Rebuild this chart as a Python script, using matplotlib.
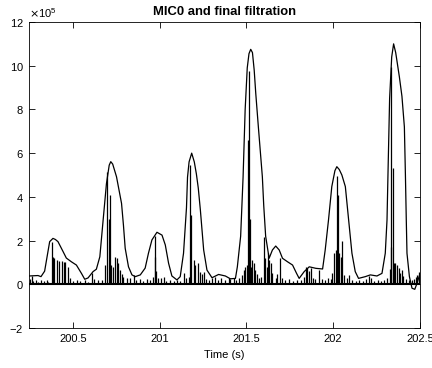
#!/usr/bin/python3

import matplotlib
matplotlib.use("Agg")
import matplotlib.pyplot as plt

#envelope of the final filtration, time (s) and value (x1e5)
env_t = [200.248, 200.300, 200.317, 200.338, 200.353, 200.367, 200.386, 200.400, 200.415,
         200.444, 200.463, 200.492, 200.521, 200.550, 200.569, 200.588, 200.617, 200.636,
         200.656, 200.675, 200.694, 200.700, 200.710, 200.719, 200.730, 200.752, 200.781,
         200.792, 200.802, 200.821, 200.841, 200.860, 200.889, 200.917, 200.936, 200.956,
         200.985, 201.014, 201.033, 201.052, 201.071, 201.100, 201.119, 201.138, 201.155,
         201.161, 201.170, 201.185, 201.200, 201.212, 201.223, 201.235, 201.254, 201.273,
         201.302, 201.340, 201.379, 201.408, 201.437, 201.448, 201.467, 201.481, 201.493,
         201.505, 201.515, 201.525, 201.535, 201.545, 201.554, 201.569, 201.592, 201.600,
         201.611, 201.631, 201.650, 201.669, 201.689, 201.708, 201.737, 201.766, 201.789,
         201.804, 201.833, 201.862, 201.900, 201.939, 201.954, 201.973, 201.992, 202.010,
         202.021, 202.035, 202.050, 202.070, 202.089, 202.108, 202.127, 202.146, 202.185,
         202.214, 202.252, 202.281, 202.300, 202.310, 202.316, 202.325, 202.337, 202.348,
         202.360, 202.381, 202.396, 202.410, 202.416, 202.421, 202.425, 202.439, 202.454,
         202.470, 202.483, 202.498]
env_v = [0.38, 0.40, 0.35, 0.60, 1.30, 1.95, 2.10, 2.05, 1.95,
         1.50, 1.20, 1.03, 0.88, 0.50, 0.23, 0.29, 0.58, 0.69,
         1.26, 2.94, 4.60, 4.92, 5.45, 5.61, 5.50, 4.92, 3.70,
         2.70, 1.65, 0.80, 0.43, 0.35, 0.43, 0.74, 1.42, 2.03,
         2.38, 2.25, 1.80, 0.96, 0.38, 0.20, 0.35, 1.42, 3.50,
         4.90, 5.60, 6.00, 5.60, 5.05, 4.40, 3.40, 1.57, 0.65,
         0.30, 0.45, 0.38, 0.25, 0.27, 0.80, 2.20, 4.90, 8.00,
         9.90, 10.55, 10.75, 10.60, 9.80, 8.74, 7.20, 4.92, 3.60,
         2.20, 1.19, 1.57, 1.75, 1.57, 1.19, 1.03, 0.88, 0.50,
         0.27, 0.58, 0.80, 0.73, 0.70, 1.57, 2.94, 4.47, 5.20,
         5.38, 5.25, 5.00, 4.47, 2.94, 1.42, 0.58, 0.27, 0.35,
         0.43, 0.38, 0.50, 1.42, 2.94, 5.20, 8.50, 10.40, 11.00,
         10.60, 9.50, 8.60, 7.20, 5.00, 2.94, 1.42, 0.35, -0.18,
         -0.23, 0.05, 0.43]

#MIC0 signal peaks, time (s) and value (x1e5)
mic_t = [200.254, 200.264, 200.271, 200.288, 200.300, 200.317, 200.335, 200.350, 200.358,
         200.379, 200.385, 200.394, 200.411, 200.423, 200.437, 200.450, 200.457, 200.475,
         200.485, 200.502, 200.523, 200.542, 200.571, 200.588, 200.610, 200.625, 200.646,
         200.667, 200.687, 200.700, 200.706, 200.714, 200.719, 200.729, 200.744, 200.754,
         200.763, 200.773, 200.785, 200.792, 200.812, 200.831, 200.850, 200.865, 200.889,
         200.906, 200.927, 200.946, 200.964, 200.971, 200.975, 200.981, 200.992, 201.010,
         201.023, 201.039, 201.062, 201.085, 201.102, 201.119, 201.138, 201.154, 201.167,
         201.174, 201.181, 201.196, 201.206, 201.219, 201.231, 201.245, 201.254, 201.269,
         201.287, 201.304, 201.321, 201.339, 201.356, 201.379, 201.400, 201.408, 201.427,
         201.443, 201.460, 201.475, 201.485, 201.492, 201.504, 201.507, 201.513, 201.519,
         201.525, 201.533, 201.542, 201.552, 201.562, 201.572, 201.584, 201.600, 201.610,
         201.620, 201.623, 201.631, 201.639, 201.650, 201.668, 201.679, 201.696, 201.708,
         201.725, 201.743, 201.766, 201.789, 201.812, 201.833, 201.841, 201.850, 201.862,
         201.870, 201.881, 201.898, 201.917, 201.933, 201.950, 201.968, 201.985, 201.996,
         202.004, 202.014, 202.021, 202.027, 202.035, 202.043, 202.050, 202.062, 202.077,
         202.093, 202.106, 202.129, 202.146, 202.170, 202.187, 202.206, 202.216, 202.233,
         202.256, 202.273, 202.291, 202.308, 202.325, 202.331, 202.335, 202.344, 202.350,
         202.358, 202.367, 202.377, 202.386, 202.395, 202.403, 202.418, 202.435, 202.452,
         202.464, 202.475, 202.485, 202.494]
mic_v = [0.25, 0.38, 0.15, 0.20, 0.12, 0.20, 0.15, 0.20, 0.10,
         1.95, 1.23, 1.19, 1.11, 1.08, 1.07, 1.04, 1.00, 0.80,
         0.30, 0.15, 0.20, 0.15, 0.20, 0.12, 0.53, 0.25, 0.20,
         0.20, 0.88, 5.13, 3.00, 4.10, 0.90, 0.80, 1.23, 1.19,
         0.96, 0.66, 0.45, 0.35, 0.27, 0.30, 0.43, 0.20, 0.25,
         0.15, 0.25, 0.20, 0.35, 1.23, 2.20, 0.60, 0.30, 0.27,
         0.32, 0.15, 0.20, 0.15, 0.20, 0.15, 0.50, 0.30, 0.35,
         5.46, 3.17, 1.11, 0.88, 0.96, 0.58, 0.45, 0.58, 0.25,
         0.20, 0.30, 0.35, 0.20, 0.30, 0.20, 0.27, 0.23, 0.30,
         0.20, 0.30, 0.43, 0.66, 0.80, 0.88, 6.60, 9.75, 3.00,
         0.80, 1.11, 0.96, 0.66, 0.45, 0.30, 0.35, 2.18, 1.19,
         0.80, 1.42, 1.10, 0.96, 0.50, 0.30, 0.45, 1.19, 0.30,
         0.20, 0.25, 0.15, 0.20, 0.20, 0.35, 0.80, 0.73, 0.60,
         0.73, 0.30, 0.25, 0.66, 0.25, 0.20, 0.30, 0.25, 0.50,
         1.42, 1.57, 4.95, 4.10, 1.42, 1.27, 2.00, 0.43, 0.30,
         0.43, 0.20, 0.15, 0.20, 0.15, 0.25, 0.40, 0.30, 0.15,
         0.20, 0.15, 0.20, 0.30, 0.70, 1.72, 9.95, 5.30, 0.96,
         0.96, 0.88, 0.73, 0.50, 0.66, 0.40, 0.25, 0.20, 0.20,
         0.25, 0.35, 0.43, 0.58]

xticks = [200.5, 201, 201.5, 202, 202.5]
yticks = [-2, 0, 2, 4, 6, 8, 10, 12]
scale = 1e5

#_____________________________________________________________________________
def main():

    plt.rcParams["font.family"] = ["Liberation Sans", "DejaVu Sans"]
    plt.rcParams["font.size"] = 8

    fig = plt.figure(figsize=(4.32, 3.68), dpi=100)
    ax = fig.add_axes([29/432, 40/368, 391/432, 306/368])

    #MIC0 signal, baseline with spikes
    ax.plot([env_t[0], env_t[-1]], [0, 0], "-", color="black", lw=1.5)
    ax.vlines(mic_t, 0, [v*scale for v in mic_v], color="black", lw=0.9)

    #final filtration envelope
    ax.plot(env_t, [v*scale for v in env_v], "-", color="black", lw=0.9)

    ax.set_xlim(200.248, 202.5)
    ax.set_ylim(-2*scale, 12*scale)
    ax.set_xticks(xticks)
    ax.set_xticklabels(["%g" % x for x in xticks])
    ax.set_yticks([y*scale for y in yticks])
    ax.ticklabel_format(axis="y", style="sci", scilimits=(5, 5), useMathText=True)

    ax.tick_params(direction="in", length=4, width=0.6, top=True, right=True, pad=4)
    for s in ax.spines.values():
        s.set_linewidth(0.6)

    ax.set_xlabel("Time (s)", labelpad=5)
    ax.set_title("MIC0 and final filtration", fontweight="bold", fontsize=9.4, pad=5)

    fig.savefig("out.png", dpi=100)

#main

#_____________________________________________________________________________
if __name__ == "__main__":

    main()
